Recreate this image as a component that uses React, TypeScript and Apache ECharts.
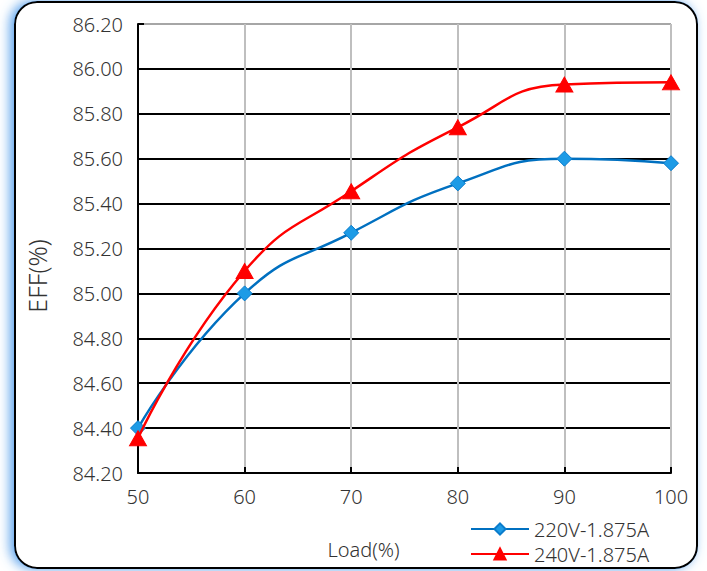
import React, { useEffect, useRef } from "react";
import * as echarts from "echarts";

const loads = [50, 60, 70, 80, 90, 100];
const eff220 = [84.4, 85.0, 85.27, 85.49, 85.6, 85.58];
const eff240 = [84.355, 85.1, 85.455, 85.74, 85.93, 85.94];
const seriesNames = ["220V-1.875A", "240V-1.875A"];
const yTicks = [84.2, 84.4, 84.6, 84.8, 85.0, 85.2, 85.4, 85.6, 85.8, 86.0, 86.2];
const xName = "Load(%)";
const yName = "EFF(%)";

const FONT = "Noto Sans";
const FW = 300;
const TXT = "#333333";

export default function App() {
  const ref = useRef<HTMLDivElement>(null);
  useEffect(() => {
    if (!ref.current) return;
    const chart = echarts.init(ref.current, null, { renderer: "svg" });
    const gridColors = yTicks.map((_, i) => (i === yTicks.length - 1 ? "#a6a6a6" : "#000000"));
    chart.setOption({
      animation: false,
      backgroundColor: "#ffffff",
      textStyle: { fontFamily: FONT, fontWeight: FW },
      graphic: [
        {
          type: "rect",
          z: -10,
          silent: true,
          shape: { x: 15, y: 2, width: 682, height: 566, r: 22 },
          style: {
            fill: "#ffffff",
            stroke: "#000000",
            lineWidth: 2,
            shadowBlur: 12,
            shadowOffsetX: -4,
            shadowColor: "rgba(80,155,235,0.95)",
          },
        },
        {
          type: "text",
          silent: true,
          x: 37,
          y: 276,
          rotation: Math.PI / 2,
          style: {
            text: yName,
            fontFamily: FONT,
            fontWeight: FW,
            fontSize: 25,
            fill: TXT,
            align: "center",
            verticalAlign: "middle",
          },
        },
      ],
      grid: { left: 138, right: 36, top: 24, bottom: 98, containLabel: false },
      legend: {
        orient: "vertical",
        left: 470,
        top: 519,
        itemWidth: 58,
        itemHeight: 14,
        itemGap: 5,
        padding: 0,
        textStyle: { fontFamily: FONT, fontWeight: FW, fontSize: 20, color: TXT },
        data: seriesNames,
      },
      xAxis: {
        type: "value",
        min: 50,
        max: 100,
        interval: 10,
        name: xName,
        nameLocation: "middle",
        nameGap: 66,
        nameTextStyle: { fontFamily: FONT, fontWeight: FW, fontSize: 20, color: TXT, padding: [0, 82, 0, 0] },
        axisLine: { lineStyle: { color: "#000000", width: 2 } },
        axisTick: { show: true, inside: true, length: 6, lineStyle: { color: "#000000", width: 2 } },
        axisLabel: { fontFamily: FONT, fontWeight: FW, fontSize: 20, color: TXT, margin: 13 },
        splitLine: { show: true, lineStyle: { color: "#bfbfbf", width: 2 } },
      },
      yAxis: {
        type: "value",
        min: 84.2,
        max: 86.2,
        interval: 0.2,
        axisLine: { show: true, lineStyle: { color: "#000000", width: 2 } },
        axisTick: { show: true, inside: true, length: 6, lineStyle: { color: "#000000", width: 2 } },
        axisLabel: {
          fontFamily: FONT,
          fontWeight: FW,
          fontSize: 20,
          color: TXT,
          margin: 15,
          formatter: (v: number) => v.toFixed(2),
        },
        splitLine: { show: true, lineStyle: { color: gridColors, width: 2 } },
      },
      series: [
        {
          name: seriesNames[0],
          type: "line",
          smooth: 0.5,
          smoothConstraint: false,
          data: loads.map((x, i) => [x, eff220[i]]),
          symbol: "diamond",
          symbolSize: 15,
          lineStyle: { color: "#0070c0", width: 2.5 },
          itemStyle: { color: "#1d9be6", borderColor: "#0a7ccc", borderWidth: 1 },
          z: 3,
        },
        {
          name: seriesNames[1],
          type: "line",
          smooth: 0.5,
          smoothConstraint: false,
          data: loads.map((x, i) => [x, eff240[i]]),
          symbol: "triangle",
          symbolSize: [17, 15],
          lineStyle: { color: "#ff0000", width: 2.5 },
          itemStyle: { color: "#ff0000", borderColor: "#ff0000", borderWidth: 1 },
          z: 4,
        },
      ],
    });
    return () => chart.dispose();
  }, []);
  return (
    <div
      ref={ref}
      style={{ position: "fixed", left: 0, top: 0, width: 707, height: 571 }}
    />
  );
}
